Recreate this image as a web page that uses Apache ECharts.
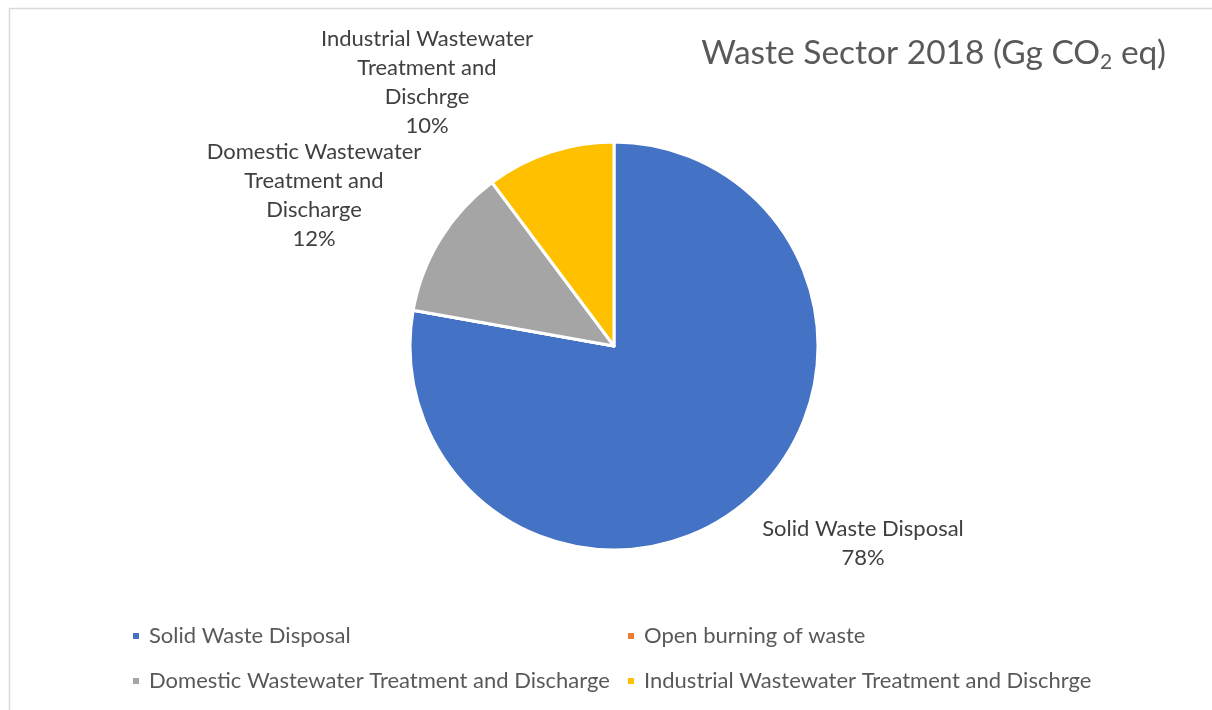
<!DOCTYPE html>
<html>
<head>
<meta charset="utf-8">
<title>Waste Sector 2018</title>
<script src="https://cdn.jsdelivr.net/npm/echarts@6/dist/echarts.min.js"></script>
<style>
  html, body { margin: 0; padding: 0; background: #fff; }
  #chart { width: 1212px; height: 710px; }
</style>
</head>
<body>
<div id="chart"></div>
<script>
// Waste sector emissions shares, 2018 (percent of total Gg CO2 eq)
const categories = [
  'Solid Waste Disposal',
  'Open burning of waste',
  'Domestic Wastewater Treatment and Discharge',
  'Industrial Wastewater Treatment and Dischrge'
];
const shares = [77.8, 0, 12.0, 10.2];
const colors = ['#4472C4', '#ED7D31', '#A5A5A5', '#FFC000'];
// Wrapped category names used in the slice labels
const labelNames = [
  'Solid Waste Disposal',
  'Open burning of waste',
  'Domestic Wastewater\nTreatment and\nDischarge',
  'Industrial Wastewater\nTreatment and\nDischrge'
];

const FONT = 'Lato';

// Label anchor points (centre of each label block)
const labelAnchors = {
  0: [863, 543],
  2: [314, 195],
  3: [427, 82]
};

const chart = echarts.init(document.getElementById('chart'), null, { renderer: 'canvas' });

const pieData = categories.map((name, i) => {
  const item = { name: name, value: shares[i], itemStyle: { color: colors[i] } };
  if (shares[i] === 0) item.label = { show: false };
  return item;
});

const legendText = { fontFamily: FONT, fontSize: 22, color: '#595959', padding: [0, 0, 0, 4] };

chart.setOption({
  animation: false,
  backgroundColor: '#ffffff',
  textStyle: { fontFamily: FONT },
  graphic: [{
    type: 'rect',
    shape: { x: 9.5, y: 8.5, width: 1400, height: 900 },
    style: { fill: 'none', stroke: '#D9D9D9', lineWidth: 1.5 },
    silent: true
  }],
  title: {
    text: 'Waste Sector 2018 (Gg CO{sub|2} eq)',
    right: 46,
    top: 33,
    padding: 0,
    textStyle: {
      fontFamily: FONT,
      fontSize: 33.5,
      fontWeight: 'normal',
      color: '#595959',
      lineHeight: 40,
      rich: {
        sub: { fontFamily: FONT, fontSize: 21, color: '#595959', lineHeight: 14, verticalAlign: 'bottom' }
      }
    }
  },
  legend: [
    {
      orient: 'vertical',
      left: 131,
      top: 625,
      padding: 0,
      itemWidth: 8,
      itemHeight: 8,
      itemGap: 23,
      icon: 'rect',
      data: [categories[0], categories[2]],
      textStyle: legendText
    },
    {
      orient: 'vertical',
      left: 626,
      top: 625,
      padding: 0,
      itemWidth: 8,
      itemHeight: 8,
      itemGap: 23,
      icon: 'rect',
      data: [categories[1], categories[3]],
      textStyle: legendText
    }
  ],
  series: [{
    type: 'pie',
    center: [614, 346],
    radius: [0, 204],
    startAngle: 90,
    clockwise: true,
    percentPrecision: 0,
    stillShowZeroSum: true,
    itemStyle: { borderColor: '#ffffff', borderWidth: 3 },
    emphasis: { disabled: true },
    label: {
      show: true,
      position: 'outside',
      fontFamily: FONT,
      fontSize: 22,
      lineHeight: 29,
      color: '#404040',
      align: 'center',
      formatter: (p) => labelNames[p.dataIndex] + '\n' + p.percent + '%'
    },
    labelLine: { show: false },
    labelLayout: (params) => {
      const a = labelAnchors[params.dataIndex];
      if (!a) return {};
      return { x: a[0], y: a[1], align: 'center', verticalAlign: 'middle' };
    },
    data: pieData
  }]
});
</script>
</body>
</html>
